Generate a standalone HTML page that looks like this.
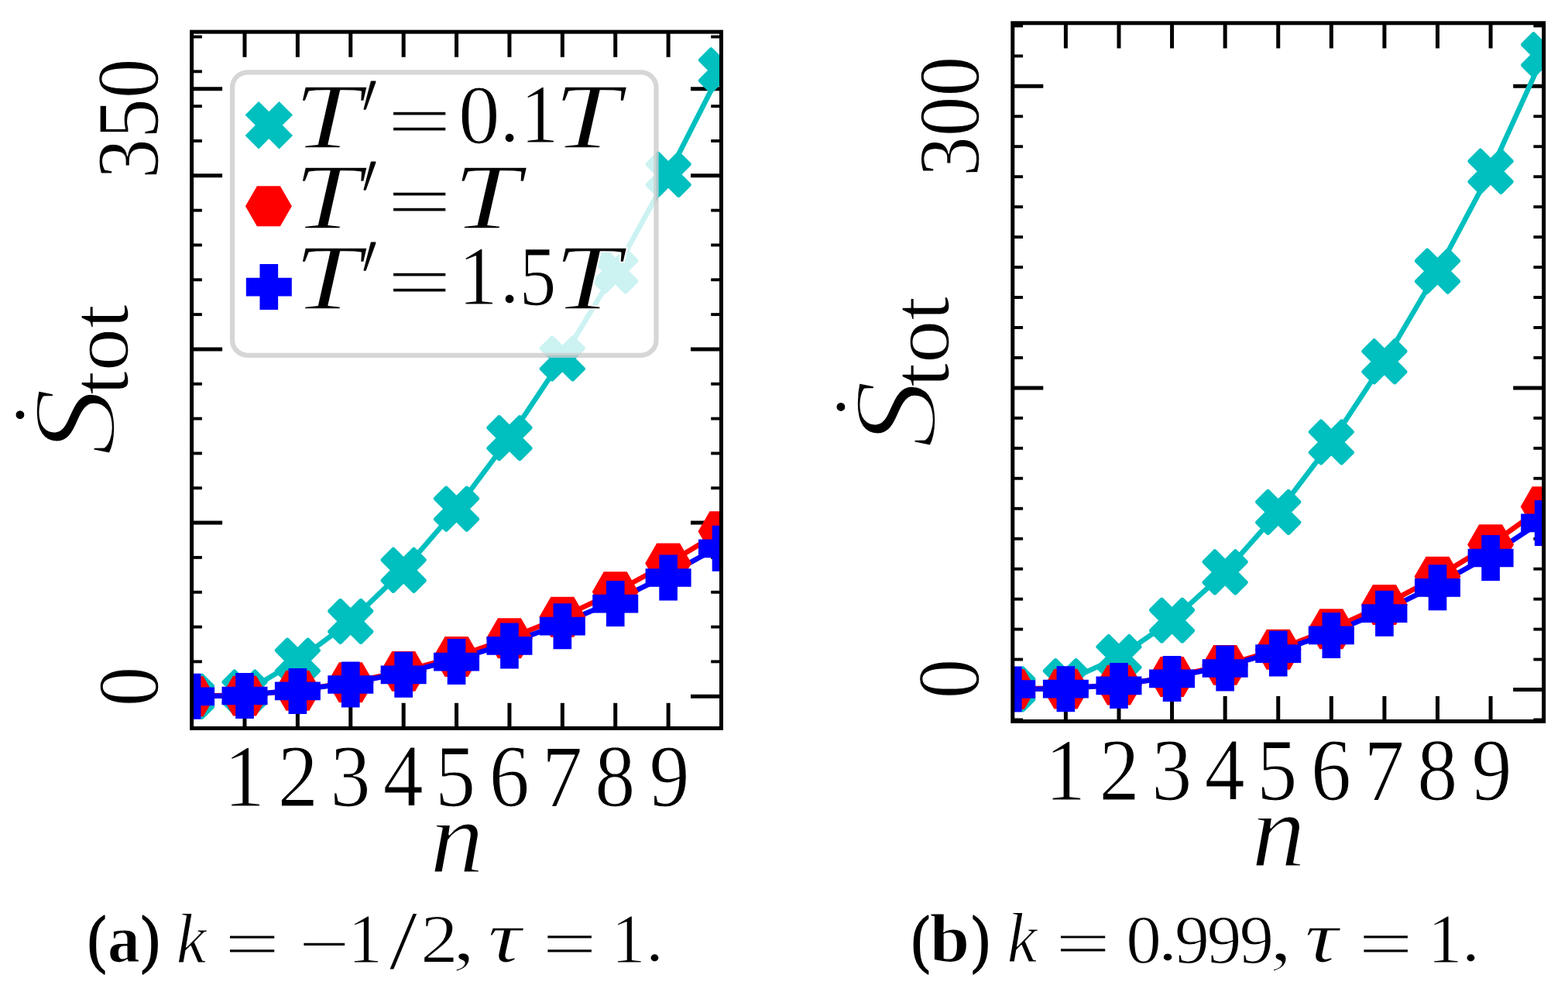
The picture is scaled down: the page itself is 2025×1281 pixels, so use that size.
<!DOCTYPE html>
<html><head><meta charset="utf-8"><title>Entropy production plot</title><style>html,body{margin:0;padding:0;background:#fff;width:2025px;height:1281px;overflow:hidden}</style></head><body>
<svg width="2025" height="1281" viewBox="0 0 2025 1281" font-family="'Liberation Serif', 'DejaVu Serif', serif" style="display:block;font-kerning:none"><rect width="2025" height="1281" fill="#fff"/><clipPath id="clipL"><rect x="247.60" y="41.15" width="683.90" height="899.25"/></clipPath>
<g stroke="#000" stroke-linecap="butt"><line x1="315.99" y1="41.15" x2="315.99" y2="73.75" stroke-width="5.00"/><line x1="315.99" y1="940.40" x2="315.99" y2="907.80" stroke-width="5.00"/><line x1="384.38" y1="41.15" x2="384.38" y2="73.75" stroke-width="5.00"/><line x1="384.38" y1="940.40" x2="384.38" y2="907.80" stroke-width="5.00"/><line x1="452.77" y1="41.15" x2="452.77" y2="73.75" stroke-width="5.00"/><line x1="452.77" y1="940.40" x2="452.77" y2="907.80" stroke-width="5.00"/><line x1="521.16" y1="41.15" x2="521.16" y2="73.75" stroke-width="5.00"/><line x1="521.16" y1="940.40" x2="521.16" y2="907.80" stroke-width="5.00"/><line x1="589.55" y1="41.15" x2="589.55" y2="73.75" stroke-width="5.00"/><line x1="589.55" y1="940.40" x2="589.55" y2="907.80" stroke-width="5.00"/><line x1="657.94" y1="41.15" x2="657.94" y2="73.75" stroke-width="5.00"/><line x1="657.94" y1="940.40" x2="657.94" y2="907.80" stroke-width="5.00"/><line x1="726.33" y1="41.15" x2="726.33" y2="73.75" stroke-width="5.00"/><line x1="726.33" y1="940.40" x2="726.33" y2="907.80" stroke-width="5.00"/><line x1="794.72" y1="41.15" x2="794.72" y2="73.75" stroke-width="5.00"/><line x1="794.72" y1="940.40" x2="794.72" y2="907.80" stroke-width="5.00"/><line x1="863.11" y1="41.15" x2="863.11" y2="73.75" stroke-width="5.00"/><line x1="863.11" y1="940.40" x2="863.11" y2="907.80" stroke-width="5.00"/><line x1="247.60" y1="854.37" x2="260.90" y2="854.37" stroke-width="3.90"/><line x1="931.50" y1="854.37" x2="918.20" y2="854.37" stroke-width="3.90"/><line x1="247.60" y1="809.55" x2="260.90" y2="809.55" stroke-width="3.90"/><line x1="931.50" y1="809.55" x2="918.20" y2="809.55" stroke-width="3.90"/><line x1="247.60" y1="764.72" x2="260.90" y2="764.72" stroke-width="3.90"/><line x1="931.50" y1="764.72" x2="918.20" y2="764.72" stroke-width="3.90"/><line x1="247.60" y1="719.90" x2="260.90" y2="719.90" stroke-width="3.90"/><line x1="931.50" y1="719.90" x2="918.20" y2="719.90" stroke-width="3.90"/><line x1="247.60" y1="630.24" x2="260.90" y2="630.24" stroke-width="3.90"/><line x1="931.50" y1="630.24" x2="918.20" y2="630.24" stroke-width="3.90"/><line x1="247.60" y1="585.42" x2="260.90" y2="585.42" stroke-width="3.90"/><line x1="931.50" y1="585.42" x2="918.20" y2="585.42" stroke-width="3.90"/><line x1="247.60" y1="540.59" x2="260.90" y2="540.59" stroke-width="3.90"/><line x1="931.50" y1="540.59" x2="918.20" y2="540.59" stroke-width="3.90"/><line x1="247.60" y1="495.77" x2="260.90" y2="495.77" stroke-width="3.90"/><line x1="931.50" y1="495.77" x2="918.20" y2="495.77" stroke-width="3.90"/><line x1="247.60" y1="406.11" x2="260.90" y2="406.11" stroke-width="3.90"/><line x1="931.50" y1="406.11" x2="918.20" y2="406.11" stroke-width="3.90"/><line x1="247.60" y1="361.29" x2="260.90" y2="361.29" stroke-width="3.90"/><line x1="931.50" y1="361.29" x2="918.20" y2="361.29" stroke-width="3.90"/><line x1="247.60" y1="316.46" x2="260.90" y2="316.46" stroke-width="3.90"/><line x1="931.50" y1="316.46" x2="918.20" y2="316.46" stroke-width="3.90"/><line x1="247.60" y1="271.64" x2="260.90" y2="271.64" stroke-width="3.90"/><line x1="931.50" y1="271.64" x2="918.20" y2="271.64" stroke-width="3.90"/><line x1="247.60" y1="181.98" x2="260.90" y2="181.98" stroke-width="3.90"/><line x1="931.50" y1="181.98" x2="918.20" y2="181.98" stroke-width="3.90"/><line x1="247.60" y1="137.16" x2="260.90" y2="137.16" stroke-width="3.90"/><line x1="931.50" y1="137.16" x2="918.20" y2="137.16" stroke-width="3.90"/><line x1="247.60" y1="92.33" x2="260.90" y2="92.33" stroke-width="3.90"/><line x1="931.50" y1="92.33" x2="918.20" y2="92.33" stroke-width="3.90"/><line x1="247.60" y1="47.51" x2="260.90" y2="47.51" stroke-width="3.90"/><line x1="931.50" y1="47.51" x2="918.20" y2="47.51" stroke-width="3.90"/><line x1="247.60" y1="899.20" x2="287.10" y2="899.20" stroke-width="5.00"/><line x1="931.50" y1="899.20" x2="892.00" y2="899.20" stroke-width="5.00"/><line x1="247.60" y1="675.07" x2="287.10" y2="675.07" stroke-width="5.00"/><line x1="931.50" y1="675.07" x2="892.00" y2="675.07" stroke-width="5.00"/><line x1="247.60" y1="450.94" x2="287.10" y2="450.94" stroke-width="5.00"/><line x1="931.50" y1="450.94" x2="892.00" y2="450.94" stroke-width="5.00"/><line x1="247.60" y1="226.81" x2="287.10" y2="226.81" stroke-width="5.00"/><line x1="931.50" y1="226.81" x2="892.00" y2="226.81" stroke-width="5.00"/><line x1="247.60" y1="114.75" x2="287.10" y2="114.75" stroke-width="5.00"/><line x1="931.50" y1="114.75" x2="892.00" y2="114.75" stroke-width="5.00"/></g>
<g clip-path="url(#clipL)"><polyline points="315.99,894.00 384.38,853.20 452.77,802.40 521.16,736.30 589.55,657.20 657.94,565.60 726.33,463.00 794.72,349.90 863.11,225.30 931.50,90.80" fill="none" stroke="#00bfbf" stroke-width="6.60" stroke-linejoin="round" stroke-linecap="square"/><polyline points="247.60,898.50 315.99,897.80 384.38,891.30 452.77,881.20 521.16,866.90 589.55,848.00 657.94,824.20 726.33,796.80 794.72,764.30 863.11,727.40 931.50,686.20" fill="none" stroke="#ff0000" stroke-width="6.60" stroke-linejoin="round" stroke-linecap="square"/><polyline points="247.60,899.30 315.99,898.00 384.38,890.90 452.77,882.00 521.16,868.80 589.55,851.60 657.94,830.40 726.33,805.00 794.72,775.70 863.11,742.00 931.50,704.30" fill="none" stroke="#0000ff" stroke-width="6.60" stroke-linejoin="round" stroke-linecap="square"/><polygon points="234.35,872.80 247.60,886.05 260.85,872.80 274.10,886.05 260.85,899.30 274.10,912.55 260.85,925.80 247.60,912.55 234.35,925.80 221.10,912.55 234.35,899.30 221.10,886.05" fill="#00bfbf" stroke="#00bfbf" stroke-width="6.00" stroke-linejoin="round" stroke-miterlimit="10"/><polygon points="302.74,867.50 315.99,880.75 329.24,867.50 342.49,880.75 329.24,894.00 342.49,907.25 329.24,920.50 315.99,907.25 302.74,920.50 289.49,907.25 302.74,894.00 289.49,880.75" fill="#00bfbf" stroke="#00bfbf" stroke-width="6.00" stroke-linejoin="round" stroke-miterlimit="10"/><polygon points="371.13,826.70 384.38,839.95 397.63,826.70 410.88,839.95 397.63,853.20 410.88,866.45 397.63,879.70 384.38,866.45 371.13,879.70 357.88,866.45 371.13,853.20 357.88,839.95" fill="#00bfbf" stroke="#00bfbf" stroke-width="6.00" stroke-linejoin="round" stroke-miterlimit="10"/><polygon points="439.52,775.90 452.77,789.15 466.02,775.90 479.27,789.15 466.02,802.40 479.27,815.65 466.02,828.90 452.77,815.65 439.52,828.90 426.27,815.65 439.52,802.40 426.27,789.15" fill="#00bfbf" stroke="#00bfbf" stroke-width="6.00" stroke-linejoin="round" stroke-miterlimit="10"/><polygon points="507.91,709.80 521.16,723.05 534.41,709.80 547.66,723.05 534.41,736.30 547.66,749.55 534.41,762.80 521.16,749.55 507.91,762.80 494.66,749.55 507.91,736.30 494.66,723.05" fill="#00bfbf" stroke="#00bfbf" stroke-width="6.00" stroke-linejoin="round" stroke-miterlimit="10"/><polygon points="576.30,630.70 589.55,643.95 602.80,630.70 616.05,643.95 602.80,657.20 616.05,670.45 602.80,683.70 589.55,670.45 576.30,683.70 563.05,670.45 576.30,657.20 563.05,643.95" fill="#00bfbf" stroke="#00bfbf" stroke-width="6.00" stroke-linejoin="round" stroke-miterlimit="10"/><polygon points="644.69,539.10 657.94,552.35 671.19,539.10 684.44,552.35 671.19,565.60 684.44,578.85 671.19,592.10 657.94,578.85 644.69,592.10 631.44,578.85 644.69,565.60 631.44,552.35" fill="#00bfbf" stroke="#00bfbf" stroke-width="6.00" stroke-linejoin="round" stroke-miterlimit="10"/><polygon points="713.08,436.50 726.33,449.75 739.58,436.50 752.83,449.75 739.58,463.00 752.83,476.25 739.58,489.50 726.33,476.25 713.08,489.50 699.83,476.25 713.08,463.00 699.83,449.75" fill="#00bfbf" stroke="#00bfbf" stroke-width="6.00" stroke-linejoin="round" stroke-miterlimit="10"/><polygon points="781.47,323.40 794.72,336.65 807.97,323.40 821.22,336.65 807.97,349.90 821.22,363.15 807.97,376.40 794.72,363.15 781.47,376.40 768.22,363.15 781.47,349.90 768.22,336.65" fill="#00bfbf" stroke="#00bfbf" stroke-width="6.00" stroke-linejoin="round" stroke-miterlimit="10"/><polygon points="849.86,198.80 863.11,212.05 876.36,198.80 889.61,212.05 876.36,225.30 889.61,238.55 876.36,251.80 863.11,238.55 849.86,251.80 836.61,238.55 849.86,225.30 836.61,212.05" fill="#00bfbf" stroke="#00bfbf" stroke-width="6.00" stroke-linejoin="round" stroke-miterlimit="10"/><polygon points="918.25,64.30 931.50,77.55 944.75,64.30 958.00,77.55 944.75,90.80 958.00,104.05 944.75,117.30 931.50,104.05 918.25,117.30 905.00,104.05 918.25,90.80 905.00,77.55" fill="#00bfbf" stroke="#00bfbf" stroke-width="6.00" stroke-linejoin="round" stroke-miterlimit="10"/><polygon points="274.10,899.30 260.85,922.25 234.35,922.25 221.10,899.30 234.35,876.35 260.85,876.35" fill="#ff0000" stroke="#ff0000" stroke-width="6.00" stroke-linejoin="miter" stroke-miterlimit="10"/><polygon points="342.49,898.60 329.24,921.55 302.74,921.55 289.49,898.60 302.74,875.65 329.24,875.65" fill="#ff0000" stroke="#ff0000" stroke-width="6.00" stroke-linejoin="miter" stroke-miterlimit="10"/><polygon points="410.88,891.70 397.63,914.65 371.13,914.65 357.88,891.70 371.13,868.75 397.63,868.75" fill="#ff0000" stroke="#ff0000" stroke-width="6.00" stroke-linejoin="miter" stroke-miterlimit="10"/><polygon points="479.27,881.20 466.02,904.15 439.52,904.15 426.27,881.20 439.52,858.25 466.02,858.25" fill="#ff0000" stroke="#ff0000" stroke-width="6.00" stroke-linejoin="miter" stroke-miterlimit="10"/><polygon points="547.66,866.90 534.41,889.85 507.91,889.85 494.66,866.90 507.91,843.95 534.41,843.95" fill="#ff0000" stroke="#ff0000" stroke-width="6.00" stroke-linejoin="miter" stroke-miterlimit="10"/><polygon points="616.05,848.00 602.80,870.95 576.30,870.95 563.05,848.00 576.30,825.05 602.80,825.05" fill="#ff0000" stroke="#ff0000" stroke-width="6.00" stroke-linejoin="miter" stroke-miterlimit="10"/><polygon points="684.44,824.20 671.19,847.15 644.69,847.15 631.44,824.20 644.69,801.25 671.19,801.25" fill="#ff0000" stroke="#ff0000" stroke-width="6.00" stroke-linejoin="miter" stroke-miterlimit="10"/><polygon points="752.83,796.80 739.58,819.75 713.08,819.75 699.83,796.80 713.08,773.85 739.58,773.85" fill="#ff0000" stroke="#ff0000" stroke-width="6.00" stroke-linejoin="miter" stroke-miterlimit="10"/><polygon points="821.22,764.30 807.97,787.25 781.47,787.25 768.22,764.30 781.47,741.35 807.97,741.35" fill="#ff0000" stroke="#ff0000" stroke-width="6.00" stroke-linejoin="miter" stroke-miterlimit="10"/><polygon points="889.61,727.40 876.36,750.35 849.86,750.35 836.61,727.40 849.86,704.45 876.36,704.45" fill="#ff0000" stroke="#ff0000" stroke-width="6.00" stroke-linejoin="miter" stroke-miterlimit="10"/><polygon points="958.00,686.20 944.75,709.15 918.25,709.15 905.00,686.20 918.25,663.25 944.75,663.25" fill="#ff0000" stroke="#ff0000" stroke-width="6.00" stroke-linejoin="miter" stroke-miterlimit="10"/><polygon points="238.77,872.80 256.43,872.80 256.43,890.47 274.10,890.47 274.10,908.13 256.43,908.13 256.43,925.80 238.77,925.80 238.77,908.13 221.10,908.13 221.10,890.47 238.77,890.47" fill="#0000ff" stroke="#0000ff" stroke-width="6.00" stroke-linejoin="miter" stroke-miterlimit="10"/><polygon points="307.16,872.00 324.82,872.00 324.82,889.67 342.49,889.67 342.49,907.33 324.82,907.33 324.82,925.00 307.16,925.00 307.16,907.33 289.49,907.33 289.49,889.67 307.16,889.67" fill="#0000ff" stroke="#0000ff" stroke-width="6.00" stroke-linejoin="miter" stroke-miterlimit="10"/><polygon points="375.55,865.90 393.21,865.90 393.21,883.57 410.88,883.57 410.88,901.23 393.21,901.23 393.21,918.90 375.55,918.90 375.55,901.23 357.88,901.23 357.88,883.57 375.55,883.57" fill="#0000ff" stroke="#0000ff" stroke-width="6.00" stroke-linejoin="miter" stroke-miterlimit="10"/><polygon points="443.94,857.50 461.60,857.50 461.60,875.17 479.27,875.17 479.27,892.83 461.60,892.83 461.60,910.50 443.94,910.50 443.94,892.83 426.27,892.83 426.27,875.17 443.94,875.17" fill="#0000ff" stroke="#0000ff" stroke-width="6.00" stroke-linejoin="miter" stroke-miterlimit="10"/><polygon points="512.33,844.80 529.99,844.80 529.99,862.47 547.66,862.47 547.66,880.13 529.99,880.13 529.99,897.80 512.33,897.80 512.33,880.13 494.66,880.13 494.66,862.47 512.33,862.47" fill="#0000ff" stroke="#0000ff" stroke-width="6.00" stroke-linejoin="miter" stroke-miterlimit="10"/><polygon points="580.72,828.10 598.38,828.10 598.38,845.77 616.05,845.77 616.05,863.43 598.38,863.43 598.38,881.10 580.72,881.10 580.72,863.43 563.05,863.43 563.05,845.77 580.72,845.77" fill="#0000ff" stroke="#0000ff" stroke-width="6.00" stroke-linejoin="miter" stroke-miterlimit="10"/><polygon points="649.11,807.40 666.77,807.40 666.77,825.07 684.44,825.07 684.44,842.73 666.77,842.73 666.77,860.40 649.11,860.40 649.11,842.73 631.44,842.73 631.44,825.07 649.11,825.07" fill="#0000ff" stroke="#0000ff" stroke-width="6.00" stroke-linejoin="miter" stroke-miterlimit="10"/><polygon points="717.50,782.20 735.16,782.20 735.16,799.87 752.83,799.87 752.83,817.53 735.16,817.53 735.16,835.20 717.50,835.20 717.50,817.53 699.83,817.53 699.83,799.87 717.50,799.87" fill="#0000ff" stroke="#0000ff" stroke-width="6.00" stroke-linejoin="miter" stroke-miterlimit="10"/><polygon points="785.89,753.10 803.55,753.10 803.55,770.77 821.22,770.77 821.22,788.43 803.55,788.43 803.55,806.10 785.89,806.10 785.89,788.43 768.22,788.43 768.22,770.77 785.89,770.77" fill="#0000ff" stroke="#0000ff" stroke-width="6.00" stroke-linejoin="miter" stroke-miterlimit="10"/><polygon points="854.28,719.50 871.94,719.50 871.94,737.17 889.61,737.17 889.61,754.83 871.94,754.83 871.94,772.50 854.28,772.50 854.28,754.83 836.61,754.83 836.61,737.17 854.28,737.17" fill="#0000ff" stroke="#0000ff" stroke-width="6.00" stroke-linejoin="miter" stroke-miterlimit="10"/><polygon points="922.67,681.80 940.33,681.80 940.33,699.47 958.00,699.47 958.00,717.13 940.33,717.13 940.33,734.80 922.67,734.80 922.67,717.13 905.00,717.13 905.00,699.47 922.67,699.47" fill="#0000ff" stroke="#0000ff" stroke-width="6.00" stroke-linejoin="miter" stroke-miterlimit="10"/></g>
<rect x="247.60" y="41.15" width="683.90" height="899.25" fill="none" stroke="#000" stroke-width="5.00" stroke-linejoin="miter"/>
<rect x="300.05" y="93.4" width="547.45" height="365.4" rx="19.6" ry="19.6" fill="#fff" fill-opacity="0.8" stroke="#ccc" stroke-opacity="0.8" stroke-width="6.3"/>
<polygon points="334.05,135.20 347.30,148.45 360.55,135.20 373.80,148.45 360.55,161.70 373.80,174.95 360.55,188.20 347.30,174.95 334.05,188.20 320.80,174.95 334.05,161.70 320.80,148.45" fill="#00bfbf" stroke="#00bfbf" stroke-width="6.00" stroke-linejoin="miter" stroke-miterlimit="10"/>
<polygon points="373.40,266.20 360.15,289.15 333.65,289.15 320.40,266.20 333.65,243.25 360.15,243.25" fill="#ff0000" stroke="#ff0000" stroke-width="6.00" stroke-linejoin="miter" stroke-miterlimit="10"/>
<polygon points="338.47,344.10 356.13,344.10 356.13,361.77 373.80,361.77 373.80,379.43 356.13,379.43 356.13,397.10 338.47,397.10 338.47,379.43 320.80,379.43 320.80,361.77 338.47,361.77" fill="#0000ff" stroke="#0000ff" stroke-width="6.00" stroke-linejoin="miter" stroke-miterlimit="10"/>
<text transform="translate(379.60 190.80) scale(1.2783 1)" font-size="120.80" font-style="italic" fill="#000" stroke="#fff" stroke-width="1.60" stroke-linejoin="round">T</text>
<text transform="translate(454.30 200.79) skewX(-12.304) scale(0.400 1)" font-size="144.77" fill="#000" stroke="#000" stroke-width="3.20" stroke-linejoin="round">′</text>
<text transform="translate(499.80 189.75) scale(1.5030 1)" font-size="98.80" fill="#000" stroke="#fff" stroke-width="1.20" stroke-linejoin="round">=</text>
<text transform="translate(591.92 185.15) scale(0.9916 1)" font-size="108.03" fill="#000" stroke="#fff" stroke-width="1.20" stroke-linejoin="round">0</text>
<text transform="translate(645.15 182.85) scale(1.0000 1)" font-size="102.40" fill="#000" stroke="#fff" stroke-width="1.20" stroke-linejoin="round">.</text>
<text transform="translate(672.36 184.30) scale(0.9138 1)" font-size="107.55" fill="#000" stroke="#fff" stroke-width="1.20" stroke-linejoin="round">1</text>
<text transform="translate(715.00 190.80) scale(1.2783 1)" font-size="120.80" font-style="italic" fill="#000" stroke="#fff" stroke-width="1.60" stroke-linejoin="round">T</text>
<text transform="translate(379.60 295.10) scale(1.2783 1)" font-size="120.80" font-style="italic" fill="#000" stroke="#fff" stroke-width="1.60" stroke-linejoin="round">T</text>
<text transform="translate(454.30 305.09) skewX(-12.304) scale(0.400 1)" font-size="144.77" fill="#000" stroke="#000" stroke-width="3.20" stroke-linejoin="round">′</text>
<text transform="translate(499.80 294.05) scale(1.5030 1)" font-size="98.80" fill="#000" stroke="#fff" stroke-width="1.20" stroke-linejoin="round">=</text>
<text transform="translate(584.99 295.10) scale(1.2918 1)" font-size="120.80" font-style="italic" fill="#000" stroke="#fff" stroke-width="1.60" stroke-linejoin="round">T</text>
<text transform="translate(379.60 399.40) scale(1.2783 1)" font-size="120.80" font-style="italic" fill="#000" stroke="#fff" stroke-width="1.60" stroke-linejoin="round">T</text>
<text transform="translate(454.30 409.39) skewX(-12.304) scale(0.400 1)" font-size="144.77" fill="#000" stroke="#000" stroke-width="3.20" stroke-linejoin="round">′</text>
<text transform="translate(499.80 398.35) scale(1.5030 1)" font-size="98.80" fill="#000" stroke="#fff" stroke-width="1.20" stroke-linejoin="round">=</text>
<text transform="translate(591.99 393.30) scale(0.9389 1)" font-size="108.00" fill="#000" stroke="#fff" stroke-width="1.20" stroke-linejoin="round">1</text>
<text transform="translate(645.15 391.45) scale(1.0000 1)" font-size="102.40" fill="#000" stroke="#fff" stroke-width="1.20" stroke-linejoin="round">.</text>
<text transform="translate(670.86 393.53) scale(0.8726 1)" font-size="109.25" fill="#000" stroke="#fff" stroke-width="1.20" stroke-linejoin="round">5</text>
<text transform="translate(715.56 399.40) scale(1.2707 1)" font-size="120.80" font-style="italic" fill="#000" stroke="#fff" stroke-width="1.60" stroke-linejoin="round">T</text>
<clipPath id="clipR"><rect x="1307.80" y="29.80" width="685.90" height="901.70"/></clipPath>
<g stroke="#000" stroke-linecap="butt"><line x1="1376.39" y1="29.80" x2="1376.39" y2="62.40" stroke-width="5.00"/><line x1="1376.39" y1="931.50" x2="1376.39" y2="898.90" stroke-width="5.00"/><line x1="1444.98" y1="29.80" x2="1444.98" y2="62.40" stroke-width="5.00"/><line x1="1444.98" y1="931.50" x2="1444.98" y2="898.90" stroke-width="5.00"/><line x1="1513.57" y1="29.80" x2="1513.57" y2="62.40" stroke-width="5.00"/><line x1="1513.57" y1="931.50" x2="1513.57" y2="898.90" stroke-width="5.00"/><line x1="1582.16" y1="29.80" x2="1582.16" y2="62.40" stroke-width="5.00"/><line x1="1582.16" y1="931.50" x2="1582.16" y2="898.90" stroke-width="5.00"/><line x1="1650.75" y1="29.80" x2="1650.75" y2="62.40" stroke-width="5.00"/><line x1="1650.75" y1="931.50" x2="1650.75" y2="898.90" stroke-width="5.00"/><line x1="1719.34" y1="29.80" x2="1719.34" y2="62.40" stroke-width="5.00"/><line x1="1719.34" y1="931.50" x2="1719.34" y2="898.90" stroke-width="5.00"/><line x1="1787.93" y1="29.80" x2="1787.93" y2="62.40" stroke-width="5.00"/><line x1="1787.93" y1="931.50" x2="1787.93" y2="898.90" stroke-width="5.00"/><line x1="1856.52" y1="29.80" x2="1856.52" y2="62.40" stroke-width="5.00"/><line x1="1856.52" y1="931.50" x2="1856.52" y2="898.90" stroke-width="5.00"/><line x1="1925.11" y1="29.80" x2="1925.11" y2="62.40" stroke-width="5.00"/><line x1="1925.11" y1="931.50" x2="1925.11" y2="898.90" stroke-width="5.00"/><line x1="1307.80" y1="929.46" x2="1321.10" y2="929.46" stroke-width="3.90"/><line x1="1993.70" y1="929.46" x2="1980.40" y2="929.46" stroke-width="3.90"/><line x1="1307.80" y1="851.54" x2="1321.10" y2="851.54" stroke-width="3.90"/><line x1="1993.70" y1="851.54" x2="1980.40" y2="851.54" stroke-width="3.90"/><line x1="1307.80" y1="812.58" x2="1321.10" y2="812.58" stroke-width="3.90"/><line x1="1993.70" y1="812.58" x2="1980.40" y2="812.58" stroke-width="3.90"/><line x1="1307.80" y1="773.62" x2="1321.10" y2="773.62" stroke-width="3.90"/><line x1="1993.70" y1="773.62" x2="1980.40" y2="773.62" stroke-width="3.90"/><line x1="1307.80" y1="734.66" x2="1321.10" y2="734.66" stroke-width="3.90"/><line x1="1993.70" y1="734.66" x2="1980.40" y2="734.66" stroke-width="3.90"/><line x1="1307.80" y1="695.70" x2="1321.10" y2="695.70" stroke-width="3.90"/><line x1="1993.70" y1="695.70" x2="1980.40" y2="695.70" stroke-width="3.90"/><line x1="1307.80" y1="656.74" x2="1321.10" y2="656.74" stroke-width="3.90"/><line x1="1993.70" y1="656.74" x2="1980.40" y2="656.74" stroke-width="3.90"/><line x1="1307.80" y1="617.78" x2="1321.10" y2="617.78" stroke-width="3.90"/><line x1="1993.70" y1="617.78" x2="1980.40" y2="617.78" stroke-width="3.90"/><line x1="1307.80" y1="578.82" x2="1321.10" y2="578.82" stroke-width="3.90"/><line x1="1993.70" y1="578.82" x2="1980.40" y2="578.82" stroke-width="3.90"/><line x1="1307.80" y1="539.86" x2="1321.10" y2="539.86" stroke-width="3.90"/><line x1="1993.70" y1="539.86" x2="1980.40" y2="539.86" stroke-width="3.90"/><line x1="1307.80" y1="461.95" x2="1321.10" y2="461.95" stroke-width="3.90"/><line x1="1993.70" y1="461.95" x2="1980.40" y2="461.95" stroke-width="3.90"/><line x1="1307.80" y1="422.99" x2="1321.10" y2="422.99" stroke-width="3.90"/><line x1="1993.70" y1="422.99" x2="1980.40" y2="422.99" stroke-width="3.90"/><line x1="1307.80" y1="384.03" x2="1321.10" y2="384.03" stroke-width="3.90"/><line x1="1993.70" y1="384.03" x2="1980.40" y2="384.03" stroke-width="3.90"/><line x1="1307.80" y1="345.07" x2="1321.10" y2="345.07" stroke-width="3.90"/><line x1="1993.70" y1="345.07" x2="1980.40" y2="345.07" stroke-width="3.90"/><line x1="1307.80" y1="306.11" x2="1321.10" y2="306.11" stroke-width="3.90"/><line x1="1993.70" y1="306.11" x2="1980.40" y2="306.11" stroke-width="3.90"/><line x1="1307.80" y1="267.15" x2="1321.10" y2="267.15" stroke-width="3.90"/><line x1="1993.70" y1="267.15" x2="1980.40" y2="267.15" stroke-width="3.90"/><line x1="1307.80" y1="228.19" x2="1321.10" y2="228.19" stroke-width="3.90"/><line x1="1993.70" y1="228.19" x2="1980.40" y2="228.19" stroke-width="3.90"/><line x1="1307.80" y1="189.23" x2="1321.10" y2="189.23" stroke-width="3.90"/><line x1="1993.70" y1="189.23" x2="1980.40" y2="189.23" stroke-width="3.90"/><line x1="1307.80" y1="150.27" x2="1321.10" y2="150.27" stroke-width="3.90"/><line x1="1993.70" y1="150.27" x2="1980.40" y2="150.27" stroke-width="3.90"/><line x1="1307.80" y1="72.35" x2="1321.10" y2="72.35" stroke-width="3.90"/><line x1="1993.70" y1="72.35" x2="1980.40" y2="72.35" stroke-width="3.90"/><line x1="1307.80" y1="33.39" x2="1321.10" y2="33.39" stroke-width="3.90"/><line x1="1993.70" y1="33.39" x2="1980.40" y2="33.39" stroke-width="3.90"/><line x1="1307.80" y1="890.50" x2="1347.30" y2="890.50" stroke-width="5.00"/><line x1="1993.70" y1="890.50" x2="1954.20" y2="890.50" stroke-width="5.00"/><line x1="1307.80" y1="500.90" x2="1347.30" y2="500.90" stroke-width="5.00"/><line x1="1993.70" y1="500.90" x2="1954.20" y2="500.90" stroke-width="5.00"/><line x1="1307.80" y1="111.31" x2="1347.30" y2="111.31" stroke-width="5.00"/><line x1="1993.70" y1="111.31" x2="1954.20" y2="111.31" stroke-width="5.00"/></g>
<g clip-path="url(#clipR)"><polyline points="1376.39,879.70 1444.98,848.50 1513.57,801.10 1582.16,738.80 1650.75,661.40 1719.34,571.00 1787.93,466.80 1856.52,350.20 1925.11,221.30 1993.70,70.80" fill="none" stroke="#00bfbf" stroke-width="6.60" stroke-linejoin="round" stroke-linecap="square"/><polyline points="1307.80,889.20 1376.39,888.80 1444.98,884.20 1513.57,874.00 1582.16,858.90 1650.75,838.70 1719.34,812.20 1787.93,781.00 1856.52,744.60 1925.11,703.20 1993.70,654.30" fill="none" stroke="#ff0000" stroke-width="6.60" stroke-linejoin="round" stroke-linecap="square"/><polyline points="1307.80,890.00 1376.39,889.20 1444.98,883.90 1513.57,874.40 1582.16,860.50 1650.75,841.10 1719.34,816.90 1787.93,788.50 1856.52,754.90 1925.11,716.50 1993.70,671.40" fill="none" stroke="#0000ff" stroke-width="6.60" stroke-linejoin="round" stroke-linecap="square"/><polygon points="1294.55,863.50 1307.80,876.75 1321.05,863.50 1334.30,876.75 1321.05,890.00 1334.30,903.25 1321.05,916.50 1307.80,903.25 1294.55,916.50 1281.30,903.25 1294.55,890.00 1281.30,876.75" fill="#00bfbf" stroke="#00bfbf" stroke-width="6.00" stroke-linejoin="round" stroke-miterlimit="10"/><polygon points="1363.14,853.20 1376.39,866.45 1389.64,853.20 1402.89,866.45 1389.64,879.70 1402.89,892.95 1389.64,906.20 1376.39,892.95 1363.14,906.20 1349.89,892.95 1363.14,879.70 1349.89,866.45" fill="#00bfbf" stroke="#00bfbf" stroke-width="6.00" stroke-linejoin="round" stroke-miterlimit="10"/><polygon points="1431.73,822.00 1444.98,835.25 1458.23,822.00 1471.48,835.25 1458.23,848.50 1471.48,861.75 1458.23,875.00 1444.98,861.75 1431.73,875.00 1418.48,861.75 1431.73,848.50 1418.48,835.25" fill="#00bfbf" stroke="#00bfbf" stroke-width="6.00" stroke-linejoin="round" stroke-miterlimit="10"/><polygon points="1500.32,774.60 1513.57,787.85 1526.82,774.60 1540.07,787.85 1526.82,801.10 1540.07,814.35 1526.82,827.60 1513.57,814.35 1500.32,827.60 1487.07,814.35 1500.32,801.10 1487.07,787.85" fill="#00bfbf" stroke="#00bfbf" stroke-width="6.00" stroke-linejoin="round" stroke-miterlimit="10"/><polygon points="1568.91,712.30 1582.16,725.55 1595.41,712.30 1608.66,725.55 1595.41,738.80 1608.66,752.05 1595.41,765.30 1582.16,752.05 1568.91,765.30 1555.66,752.05 1568.91,738.80 1555.66,725.55" fill="#00bfbf" stroke="#00bfbf" stroke-width="6.00" stroke-linejoin="round" stroke-miterlimit="10"/><polygon points="1637.50,634.90 1650.75,648.15 1664.00,634.90 1677.25,648.15 1664.00,661.40 1677.25,674.65 1664.00,687.90 1650.75,674.65 1637.50,687.90 1624.25,674.65 1637.50,661.40 1624.25,648.15" fill="#00bfbf" stroke="#00bfbf" stroke-width="6.00" stroke-linejoin="round" stroke-miterlimit="10"/><polygon points="1706.09,544.50 1719.34,557.75 1732.59,544.50 1745.84,557.75 1732.59,571.00 1745.84,584.25 1732.59,597.50 1719.34,584.25 1706.09,597.50 1692.84,584.25 1706.09,571.00 1692.84,557.75" fill="#00bfbf" stroke="#00bfbf" stroke-width="6.00" stroke-linejoin="round" stroke-miterlimit="10"/><polygon points="1774.68,440.30 1787.93,453.55 1801.18,440.30 1814.43,453.55 1801.18,466.80 1814.43,480.05 1801.18,493.30 1787.93,480.05 1774.68,493.30 1761.43,480.05 1774.68,466.80 1761.43,453.55" fill="#00bfbf" stroke="#00bfbf" stroke-width="6.00" stroke-linejoin="round" stroke-miterlimit="10"/><polygon points="1843.27,323.70 1856.52,336.95 1869.77,323.70 1883.02,336.95 1869.77,350.20 1883.02,363.45 1869.77,376.70 1856.52,363.45 1843.27,376.70 1830.02,363.45 1843.27,350.20 1830.02,336.95" fill="#00bfbf" stroke="#00bfbf" stroke-width="6.00" stroke-linejoin="round" stroke-miterlimit="10"/><polygon points="1911.86,194.80 1925.11,208.05 1938.36,194.80 1951.61,208.05 1938.36,221.30 1951.61,234.55 1938.36,247.80 1925.11,234.55 1911.86,247.80 1898.61,234.55 1911.86,221.30 1898.61,208.05" fill="#00bfbf" stroke="#00bfbf" stroke-width="6.00" stroke-linejoin="round" stroke-miterlimit="10"/><polygon points="1980.45,44.30 1993.70,57.55 2006.95,44.30 2020.20,57.55 2006.95,70.80 2020.20,84.05 2006.95,97.30 1993.70,84.05 1980.45,97.30 1967.20,84.05 1980.45,70.80 1967.20,57.55" fill="#00bfbf" stroke="#00bfbf" stroke-width="6.00" stroke-linejoin="round" stroke-miterlimit="10"/><polygon points="1334.30,890.00 1321.05,912.95 1294.55,912.95 1281.30,890.00 1294.55,867.05 1321.05,867.05" fill="#ff0000" stroke="#ff0000" stroke-width="6.00" stroke-linejoin="miter" stroke-miterlimit="10"/><polygon points="1402.89,889.60 1389.64,912.55 1363.14,912.55 1349.89,889.60 1363.14,866.65 1389.64,866.65" fill="#ff0000" stroke="#ff0000" stroke-width="6.00" stroke-linejoin="miter" stroke-miterlimit="10"/><polygon points="1471.48,884.60 1458.23,907.55 1431.73,907.55 1418.48,884.60 1431.73,861.65 1458.23,861.65" fill="#ff0000" stroke="#ff0000" stroke-width="6.00" stroke-linejoin="miter" stroke-miterlimit="10"/><polygon points="1540.07,874.00 1526.82,896.95 1500.32,896.95 1487.07,874.00 1500.32,851.05 1526.82,851.05" fill="#ff0000" stroke="#ff0000" stroke-width="6.00" stroke-linejoin="miter" stroke-miterlimit="10"/><polygon points="1608.66,858.90 1595.41,881.85 1568.91,881.85 1555.66,858.90 1568.91,835.95 1595.41,835.95" fill="#ff0000" stroke="#ff0000" stroke-width="6.00" stroke-linejoin="miter" stroke-miterlimit="10"/><polygon points="1677.25,838.70 1664.00,861.65 1637.50,861.65 1624.25,838.70 1637.50,815.75 1664.00,815.75" fill="#ff0000" stroke="#ff0000" stroke-width="6.00" stroke-linejoin="miter" stroke-miterlimit="10"/><polygon points="1745.84,812.20 1732.59,835.15 1706.09,835.15 1692.84,812.20 1706.09,789.25 1732.59,789.25" fill="#ff0000" stroke="#ff0000" stroke-width="6.00" stroke-linejoin="miter" stroke-miterlimit="10"/><polygon points="1814.43,781.00 1801.18,803.95 1774.68,803.95 1761.43,781.00 1774.68,758.05 1801.18,758.05" fill="#ff0000" stroke="#ff0000" stroke-width="6.00" stroke-linejoin="miter" stroke-miterlimit="10"/><polygon points="1883.02,744.60 1869.77,767.55 1843.27,767.55 1830.02,744.60 1843.27,721.65 1869.77,721.65" fill="#ff0000" stroke="#ff0000" stroke-width="6.00" stroke-linejoin="miter" stroke-miterlimit="10"/><polygon points="1951.61,703.20 1938.36,726.15 1911.86,726.15 1898.61,703.20 1911.86,680.25 1938.36,680.25" fill="#ff0000" stroke="#ff0000" stroke-width="6.00" stroke-linejoin="miter" stroke-miterlimit="10"/><polygon points="2020.20,654.30 2006.95,677.25 1980.45,677.25 1967.20,654.30 1980.45,631.35 2006.95,631.35" fill="#ff0000" stroke="#ff0000" stroke-width="6.00" stroke-linejoin="miter" stroke-miterlimit="10"/><polygon points="1298.97,863.50 1316.63,863.50 1316.63,881.17 1334.30,881.17 1334.30,898.83 1316.63,898.83 1316.63,916.50 1298.97,916.50 1298.97,898.83 1281.30,898.83 1281.30,881.17 1298.97,881.17" fill="#0000ff" stroke="#0000ff" stroke-width="6.00" stroke-linejoin="miter" stroke-miterlimit="10"/><polygon points="1367.56,863.20 1385.22,863.20 1385.22,880.87 1402.89,880.87 1402.89,898.53 1385.22,898.53 1385.22,916.20 1367.56,916.20 1367.56,898.53 1349.89,898.53 1349.89,880.87 1367.56,880.87" fill="#0000ff" stroke="#0000ff" stroke-width="6.00" stroke-linejoin="miter" stroke-miterlimit="10"/><polygon points="1436.15,858.90 1453.81,858.90 1453.81,876.57 1471.48,876.57 1471.48,894.23 1453.81,894.23 1453.81,911.90 1436.15,911.90 1436.15,894.23 1418.48,894.23 1418.48,876.57 1436.15,876.57" fill="#0000ff" stroke="#0000ff" stroke-width="6.00" stroke-linejoin="miter" stroke-miterlimit="10"/><polygon points="1504.74,849.90 1522.40,849.90 1522.40,867.57 1540.07,867.57 1540.07,885.23 1522.40,885.23 1522.40,902.90 1504.74,902.90 1504.74,885.23 1487.07,885.23 1487.07,867.57 1504.74,867.57" fill="#0000ff" stroke="#0000ff" stroke-width="6.00" stroke-linejoin="miter" stroke-miterlimit="10"/><polygon points="1573.33,836.50 1590.99,836.50 1590.99,854.17 1608.66,854.17 1608.66,871.83 1590.99,871.83 1590.99,889.50 1573.33,889.50 1573.33,871.83 1555.66,871.83 1555.66,854.17 1573.33,854.17" fill="#0000ff" stroke="#0000ff" stroke-width="6.00" stroke-linejoin="miter" stroke-miterlimit="10"/><polygon points="1641.92,817.60 1659.58,817.60 1659.58,835.27 1677.25,835.27 1677.25,852.93 1659.58,852.93 1659.58,870.60 1641.92,870.60 1641.92,852.93 1624.25,852.93 1624.25,835.27 1641.92,835.27" fill="#0000ff" stroke="#0000ff" stroke-width="6.00" stroke-linejoin="miter" stroke-miterlimit="10"/><polygon points="1710.51,793.90 1728.17,793.90 1728.17,811.57 1745.84,811.57 1745.84,829.23 1728.17,829.23 1728.17,846.90 1710.51,846.90 1710.51,829.23 1692.84,829.23 1692.84,811.57 1710.51,811.57" fill="#0000ff" stroke="#0000ff" stroke-width="6.00" stroke-linejoin="miter" stroke-miterlimit="10"/><polygon points="1779.10,765.70 1796.76,765.70 1796.76,783.37 1814.43,783.37 1814.43,801.03 1796.76,801.03 1796.76,818.70 1779.10,818.70 1779.10,801.03 1761.43,801.03 1761.43,783.37 1779.10,783.37" fill="#0000ff" stroke="#0000ff" stroke-width="6.00" stroke-linejoin="miter" stroke-miterlimit="10"/><polygon points="1847.69,732.30 1865.35,732.30 1865.35,749.97 1883.02,749.97 1883.02,767.63 1865.35,767.63 1865.35,785.30 1847.69,785.30 1847.69,767.63 1830.02,767.63 1830.02,749.97 1847.69,749.97" fill="#0000ff" stroke="#0000ff" stroke-width="6.00" stroke-linejoin="miter" stroke-miterlimit="10"/><polygon points="1916.28,694.00 1933.94,694.00 1933.94,711.67 1951.61,711.67 1951.61,729.33 1933.94,729.33 1933.94,747.00 1916.28,747.00 1916.28,729.33 1898.61,729.33 1898.61,711.67 1916.28,711.67" fill="#0000ff" stroke="#0000ff" stroke-width="6.00" stroke-linejoin="miter" stroke-miterlimit="10"/><polygon points="1984.87,648.90 2002.53,648.90 2002.53,666.57 2020.20,666.57 2020.20,684.23 2002.53,684.23 2002.53,701.90 1984.87,701.90 1984.87,684.23 1967.20,684.23 1967.20,666.57 1984.87,666.57" fill="#0000ff" stroke="#0000ff" stroke-width="6.00" stroke-linejoin="miter" stroke-miterlimit="10"/></g>
<rect x="1307.80" y="29.80" width="685.90" height="901.70" fill="none" stroke="#000" stroke-width="5.00" stroke-linejoin="miter"/>
<text transform="translate(289.47 1040.70) scale(0.9155 1)" font-size="114.37" fill="#000" stroke="#fff" stroke-width="1.20" stroke-linejoin="round">1</text>
<text transform="translate(358.81 1040.70) scale(0.9119 1)" font-size="114.36" fill="#000" stroke="#fff" stroke-width="1.20" stroke-linejoin="round">2</text>
<text transform="translate(426.49 1040.68) scale(0.9113 1)" font-size="114.34" fill="#000" stroke="#fff" stroke-width="1.20" stroke-linejoin="round">3</text>
<text transform="translate(494.83 1040.70) scale(0.9082 1)" font-size="114.37" fill="#000" stroke="#fff" stroke-width="1.20" stroke-linejoin="round">4</text>
<text transform="translate(561.94 1040.68) scale(0.9118 1)" font-size="114.35" fill="#000" stroke="#fff" stroke-width="1.20" stroke-linejoin="round">5</text>
<text transform="translate(631.69 1040.68) scale(0.9105 1)" font-size="114.34" fill="#000" stroke="#fff" stroke-width="1.20" stroke-linejoin="round">6</text>
<text transform="translate(700.00 1040.70) scale(0.9115 1)" font-size="114.38" fill="#000" stroke="#fff" stroke-width="1.20" stroke-linejoin="round">7</text>
<text transform="translate(768.37 1040.68) scale(0.9108 1)" font-size="114.33" fill="#000" stroke="#fff" stroke-width="1.20" stroke-linejoin="round">8</text>
<text transform="translate(838.43 1040.68) scale(0.9105 1)" font-size="114.34" fill="#000" stroke="#fff" stroke-width="1.20" stroke-linejoin="round">9</text>
<text transform="translate(1349.87 1033.40) scale(0.9155 1)" font-size="114.37" fill="#000" stroke="#fff" stroke-width="1.20" stroke-linejoin="round">1</text>
<text transform="translate(1419.41 1033.40) scale(0.9119 1)" font-size="114.36" fill="#000" stroke="#fff" stroke-width="1.20" stroke-linejoin="round">2</text>
<text transform="translate(1487.29 1033.38) scale(0.9113 1)" font-size="114.34" fill="#000" stroke="#fff" stroke-width="1.20" stroke-linejoin="round">3</text>
<text transform="translate(1555.83 1033.40) scale(0.9082 1)" font-size="114.37" fill="#000" stroke="#fff" stroke-width="1.20" stroke-linejoin="round">4</text>
<text transform="translate(1623.14 1033.38) scale(0.9118 1)" font-size="114.35" fill="#000" stroke="#fff" stroke-width="1.20" stroke-linejoin="round">5</text>
<text transform="translate(1693.09 1033.38) scale(0.9105 1)" font-size="114.34" fill="#000" stroke="#fff" stroke-width="1.20" stroke-linejoin="round">6</text>
<text transform="translate(1761.60 1033.40) scale(0.9115 1)" font-size="114.38" fill="#000" stroke="#fff" stroke-width="1.20" stroke-linejoin="round">7</text>
<text transform="translate(1830.17 1033.38) scale(0.9108 1)" font-size="114.33" fill="#000" stroke="#fff" stroke-width="1.20" stroke-linejoin="round">8</text>
<text transform="translate(1900.43 1033.38) scale(0.9105 1)" font-size="114.34" fill="#000" stroke="#fff" stroke-width="1.20" stroke-linejoin="round">9</text>
<text transform="translate(204.49 230.96) rotate(-90) scale(0.9145 1)" font-size="113.37" fill="#000" stroke="#fff" stroke-width="1.20" stroke-linejoin="round">350</text>
<text transform="translate(204.40 912.23) rotate(-90) scale(0.9119 1)" font-size="113.07" fill="#000" stroke="#fff" stroke-width="1.20" stroke-linejoin="round">0</text>
<text transform="translate(1264.10 228.05) rotate(-90) scale(0.9180 1)" font-size="112.77" fill="#000" stroke="#fff" stroke-width="1.20" stroke-linejoin="round">300</text>
<text transform="translate(1264.39 902.23) rotate(-90) scale(0.9095 1)" font-size="113.37" fill="#000" stroke="#fff" stroke-width="1.20" stroke-linejoin="round">0</text>
<text transform="translate(555.23 1125.50) scale(1.0486 1)" font-size="133.07" font-style="italic" fill="#000" stroke="#fff" stroke-width="2.00" stroke-linejoin="round">n</text>
<text transform="translate(1616.33 1117.60) scale(1.0370 1)" font-size="134.55" font-style="italic" fill="#000" stroke="#fff" stroke-width="2.00" stroke-linejoin="round">n</text>
<text transform="translate(148.11 588.87) rotate(-90) scale(1.1555 1)" font-size="152.86" font-style="italic" fill="#000" stroke="#fff" stroke-width="3.60" stroke-linejoin="round">S</text>
<text transform="translate(165.07 509.88) rotate(-90) scale(1.0424 1)" font-size="105.98" fill="#000" stroke="#fff" stroke-width="1.20" stroke-linejoin="round">tot</text>
<text transform="translate(95.94 554.91) rotate(-90) scale(1.0000 1)" font-size="115.14" fill="#000" stroke="#fff" stroke-width="1.20" stroke-linejoin="round">˙</text>
<text transform="translate(1208.10 578.67) rotate(-90) scale(1.1511 1)" font-size="153.45" font-style="italic" fill="#000" stroke="#fff" stroke-width="3.60" stroke-linejoin="round">S</text>
<text transform="translate(1225.07 499.78) rotate(-90) scale(1.0424 1)" font-size="105.98" fill="#000" stroke="#fff" stroke-width="1.20" stroke-linejoin="round">tot</text>
<text transform="translate(1155.54 544.81) rotate(-90) scale(1.0000 1)" font-size="115.14" fill="#000" stroke="#fff" stroke-width="1.20" stroke-linejoin="round">˙</text>
<text transform="translate(113.40 1239.72) scale(0.8486 1)" font-size="83.04" fill="#000" stroke="#000" stroke-width="2.20" stroke-linejoin="round">(</text>
<text transform="translate(138.91 1242.34) scale(0.9502 1)" font-size="87.89" font-weight="bold" fill="#000" stroke="#fff" stroke-width="1.20" stroke-linejoin="round">a</text>
<text transform="translate(182.29 1239.72) scale(0.8627 1)" font-size="83.04" fill="#000" stroke="#000" stroke-width="2.20" stroke-linejoin="round">)</text>
<text transform="translate(227.69 1242.60) scale(0.9571 1)" font-size="90.94" font-style="italic" fill="#000" stroke="#fff" stroke-width="1.20" stroke-linejoin="round">k</text>
<text transform="translate(289.77 1247.70) scale(1.4768 1)" font-size="86.00" fill="#000" stroke="#fff" stroke-width="1.20" stroke-linejoin="round">=</text>
<text transform="translate(385.39 1249.77) scale(1.2634 1)" font-size="92.36" fill="#000" stroke="#fff" stroke-width="1.20" stroke-linejoin="round">−</text>
<text transform="translate(449.21 1242.60) scale(0.9892 1)" font-size="90.74" fill="#000" stroke="#fff" stroke-width="1.20" stroke-linejoin="round">1</text>
<text transform="translate(502.60 1250.65) scale(1.2256 1)" font-size="107.78" fill="#000" stroke="#fff" stroke-width="1.20" stroke-linejoin="round">/</text>
<text transform="translate(543.36 1242.00) scale(1.0889 1)" font-size="88.66" fill="#000" stroke="#fff" stroke-width="1.20" stroke-linejoin="round">2</text>
<text transform="translate(583.24 1239.73) scale(1.3107 1)" font-size="97.34" fill="#000" stroke="#fff" stroke-width="2.40" stroke-linejoin="round">,</text>
<text transform="translate(629.95 1242.28) scale(1.2771 1)" font-size="94.51" font-style="italic" fill="#000" stroke="#fff" stroke-width="1.20" stroke-linejoin="round">τ</text>
<text transform="translate(700.26 1248.25) scale(1.3983 1)" font-size="89.60" fill="#000" stroke="#fff" stroke-width="1.20" stroke-linejoin="round">=</text>
<text transform="translate(789.46 1242.60) scale(0.9705 1)" font-size="90.74" fill="#000" stroke="#fff" stroke-width="1.20" stroke-linejoin="round">1</text>
<text transform="translate(833.50 1241.37) scale(1.0971 1)" font-size="87.17" fill="#000" stroke="#fff" stroke-width="1.20" stroke-linejoin="round">.</text>
<text transform="translate(1177.44 1239.57) scale(0.8370 1)" font-size="83.27" fill="#000" stroke="#000" stroke-width="2.20" stroke-linejoin="round">(</text>
<text transform="translate(1200.72 1241.73) scale(1.0431 1)" font-size="88.83" font-weight="bold" fill="#000" stroke="#fff" stroke-width="1.20" stroke-linejoin="round">b</text>
<text transform="translate(1255.08 1239.57) scale(0.8277 1)" font-size="83.27" fill="#000" stroke="#000" stroke-width="2.20" stroke-linejoin="round">)</text>
<text transform="translate(1300.71 1242.00) scale(0.9565 1)" font-size="90.51" font-style="italic" fill="#000" stroke="#fff" stroke-width="1.20" stroke-linejoin="round">k</text>
<text transform="translate(1362.87 1247.46) scale(1.4977 1)" font-size="84.80" fill="#000" stroke="#fff" stroke-width="1.20" stroke-linejoin="round">=</text>
<text transform="translate(1454.22 1242.73) scale(1.0252 1)" font-size="89.06" fill="#000" stroke="#fff" stroke-width="1.20" stroke-linejoin="round">0</text>
<text transform="translate(1495.35 1240.39) scale(1.1980 1)" font-size="85.47" fill="#000" stroke="#fff" stroke-width="1.20" stroke-linejoin="round">.</text>
<text transform="translate(1517.01 1242.72) scale(1.0000 1)" font-size="89.75" fill="#000" stroke="#fff" stroke-width="1.20" stroke-linejoin="round">9</text>
<text transform="translate(1558.72 1242.72) scale(0.9948 1)" font-size="89.75" fill="#000" stroke="#fff" stroke-width="1.20" stroke-linejoin="round">9</text>
<text transform="translate(1600.65 1242.72) scale(0.9843 1)" font-size="89.75" fill="#000" stroke="#fff" stroke-width="1.20" stroke-linejoin="round">9</text>
<text transform="translate(1638.64 1239.73) scale(1.2831 1)" font-size="97.34" fill="#000" stroke="#fff" stroke-width="2.40" stroke-linejoin="round">,</text>
<text transform="translate(1684.95 1242.28) scale(1.2742 1)" font-size="94.51" font-style="italic" fill="#000" stroke="#fff" stroke-width="1.20" stroke-linejoin="round">τ</text>
<text transform="translate(1754.26 1248.25) scale(1.3983 1)" font-size="89.60" fill="#000" stroke="#fff" stroke-width="1.20" stroke-linejoin="round">=</text>
<text transform="translate(1843.74 1242.60) scale(0.9861 1)" font-size="90.74" fill="#000" stroke="#fff" stroke-width="1.20" stroke-linejoin="round">1</text>
<text transform="translate(1887.40 1241.37) scale(1.0971 1)" font-size="87.17" fill="#000" stroke="#fff" stroke-width="1.20" stroke-linejoin="round">.</text></svg>
</body></html>
